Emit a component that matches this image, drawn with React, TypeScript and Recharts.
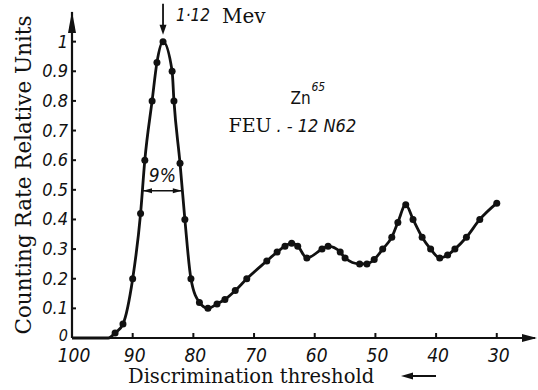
import { LineChart, Line, XAxis, YAxis, ReferenceDot, ReferenceLine } from "recharts";

// discrimination threshold (channels) and relative counting rate
const thresholds = [
  100, 94, 92.9, 91.6, 90, 88.7, 88, 86.8, 86, 85, 83.5, 83.2, 82.2, 81.4, 80.4, 79, 77.6, 76.1,
  74.8, 73.1, 71.2, 67.9, 66.2, 64.9, 63.8, 62.8, 61.3, 58.8, 57.8, 55.8, 55, 52.6, 51.4, 50.2,
  48.8, 47.3, 46.3, 45, 43.8, 42.3, 40.9, 39.4, 38.1, 36.9, 35, 32.8, 30,
];
const rates = [
  0, 0, 0.017, 0.047, 0.2, 0.42, 0.6, 0.8, 0.93, 1.0, 0.9, 0.8, 0.59, 0.4, 0.2, 0.12, 0.1, 0.115,
  0.13, 0.16, 0.2, 0.26, 0.29, 0.31, 0.32, 0.31, 0.27, 0.3, 0.31, 0.29, 0.27, 0.25, 0.25, 0.265,
  0.3, 0.34, 0.39, 0.45, 0.4, 0.34, 0.3, 0.27, 0.28, 0.3, 0.34, 0.4, 0.455,
];
const xTicks = [100, 90, 80, 70, 60, 50, 40, 30];
const yTicks = [0, 0.1, 0.2, 0.3, 0.4, 0.5, 0.6, 0.7, 0.8, 0.9, 1];

const rows = thresholds.map((t, i) => ({ threshold: t, rate: rates[i] }));

const INK = "#111";
const tickFont = "'DejaVu Sans Condensed', 'Liberation Sans Narrow', sans-serif";
const serif = "'DejaVu Serif', serif";

function yLabel(v: number) {
  if (v === 0) return "0";
  if (v === 1) return "1";
  return v.toFixed(1);
}

function XTick({ x, y, payload }: any) {
  return (
    <g>
      <line x1={x} x2={x} y1={y} y2={y - 5} stroke={INK} strokeWidth={2} />
      <text x={x + 2} y={y + 24} textAnchor="middle" fontFamily={tickFont} fontStyle="italic"
        fontSize={19} fill={INK}>{payload.value}</text>
    </g>
  );
}

function YTick({ x, y, payload }: any) {
  return (
    <g>
      <line x1={x} x2={x + 4} y1={y} y2={y} stroke={INK} strokeWidth={2} />
      <text x={x - 4} y={payload.value === 0 ? y + 3 : y + 6} textAnchor="end" fontFamily={tickFont}
        fontStyle="italic" fontSize={payload.value === 0 ? 16 : 18} fill={INK}>{yLabel(payload.value)}</text>
    </g>
  );
}

function dot(props: any) {
  const { cx, cy, payload, index } = props;
  if (payload.rate === 0) return <g key={index} />;
  return <circle key={index} cx={cx} cy={cy} r={3.5} fill={INK} />;
}

function WidthArrow(props: any) {
  const { x1, y1, x2 } = props;
  const l = Math.min(x1, x2);
  const r = Math.max(x1, x2);
  return (
    <g>
      <line x1={l} x2={r} y1={y1} y2={y1} stroke={INK} strokeWidth={1.5} />
      <polygon points={`${l},${y1} ${l + 9},${y1 - 2.5} ${l + 9},${y1 + 2.5}`} fill={INK} />
      <polygon points={`${r},${y1} ${r - 9},${y1 - 2.5} ${r - 9},${y1 + 2.5}`} fill={INK} />
      <text x={(l + r) / 2} y={y1 - 9} textAnchor="middle" fontFamily={tickFont} fontStyle="italic"
        fontSize={19} fill={INK}>9%</text>
    </g>
  );
}

function PeakMark({ cx, cy }: any) {
  return (
    <g>
      <line x1={cx} x2={cx} y1={cy - 38} y2={cy - 12} stroke={INK} strokeWidth={1.8} />
      <polygon points={`${cx},${cy - 7} ${cx - 3.5},${cy - 17} ${cx + 3.5},${cy - 17}`} fill={INK} />
      <text x={cx + 13} y={cy - 21} fontFamily={tickFont} fontStyle="italic" fontSize={17} fill={INK}>1·12</text>
      <text x={cx + 59} y={cy - 19} fontFamily={serif} fontSize={20} fill={INK}>Mev</text>
    </g>
  );
}

function SourceNote({ cx, cy }: any) {
  return (
    <g fill={INK}>
      <text x={cx} y={cy} fontFamily={tickFont} fontSize={17}>Zn</text>
      <text x={cx + 21} y={cy - 13} fontFamily={tickFont} fontStyle="italic" fontSize={12}>65</text>
      <text x={cx - 62} y={cy + 28} fontFamily={serif} fontSize={19}>FEU</text>
      <text x={cx - 14} y={cy + 28} fontFamily={tickFont} fontStyle="italic" fontSize={18}>. - 12 N62</text>
    </g>
  );
}

function XTitle({ viewBox }: any) {
  const { x, y, width } = viewBox;
  const ax = x + width;
  return (
    <g>
      <polygon points={`${ax + 2},${y} ${ax - 13},${y - 4} ${ax - 13},${y + 4}`} fill={INK} />
      <text x={128} y={y + 45} fontFamily={serif} fontSize={19.5} fill={INK}>Discrimination threshold</text>
      <line x1={406} x2={436} y1={y + 38} y2={y + 38} stroke={INK} strokeWidth={2} />
      <polygon points={`${401},${y + 38} ${413},${y + 34.5} ${413},${y + 41.5}`} fill={INK} />
    </g>
  );
}

function YTitle({ viewBox }: any) {
  const { x, y, width } = viewBox;
  const ax = x + width;
  return (
    <g>
      <polygon points={`${ax},${y - 1} ${ax - 4},${y + 21} ${ax + 4},${y + 21}`} fill={INK} />
      <text transform={`translate(31, 175) rotate(-90)`} textAnchor="middle" fontFamily={serif}
        fontSize={21.5} fill={INK}>Counting Rate Relative Units</text>
    </g>
  );
}

export default function App() {
  return (
    <div style={{ width: 538, height: 390, background: "#fff" }}>
      <style>{"body{margin:0}"}</style>
      <LineChart width={538} height={390} data={rows} margin={{ top: 12, right: 3, bottom: 22, left: 32 }}>
        <XAxis type="number" dataKey="threshold" domain={[23.7, 100]} reversed allowDataOverflow
          ticks={xTicks} interval={0} tick={XTick} tickLine={false} tickSize={0} tickMargin={0}
          axisLine={{ stroke: INK, strokeWidth: 2.2 }} height={30} label={{ content: XTitle }} />
        <YAxis type="number" domain={[0, 1.1]} ticks={yTicks} interval={0} tick={YTick} tickLine={false}
          tickSize={0} tickMargin={0} axisLine={{ stroke: INK, strokeWidth: 2.2 }} width={40}
          label={{ content: YTitle }} />
        <ReferenceLine segment={[{ x: 88.3, y: 0.497 }, { x: 81.9, y: 0.497 }]} shape={WidthArrow}
          ifOverflow="visible" />
        <ReferenceDot x={85} y={1} r={0} shape={PeakMark} ifOverflow="visible" />
        <ReferenceDot x={64} y={0.79} r={0} shape={SourceNote} ifOverflow="visible" />
        <Line type="monotone" dataKey="rate" stroke={INK} strokeWidth={2.8} dot={dot}
          activeDot={false} isAnimationActive={false} />
      </LineChart>
    </div>
  );
}
